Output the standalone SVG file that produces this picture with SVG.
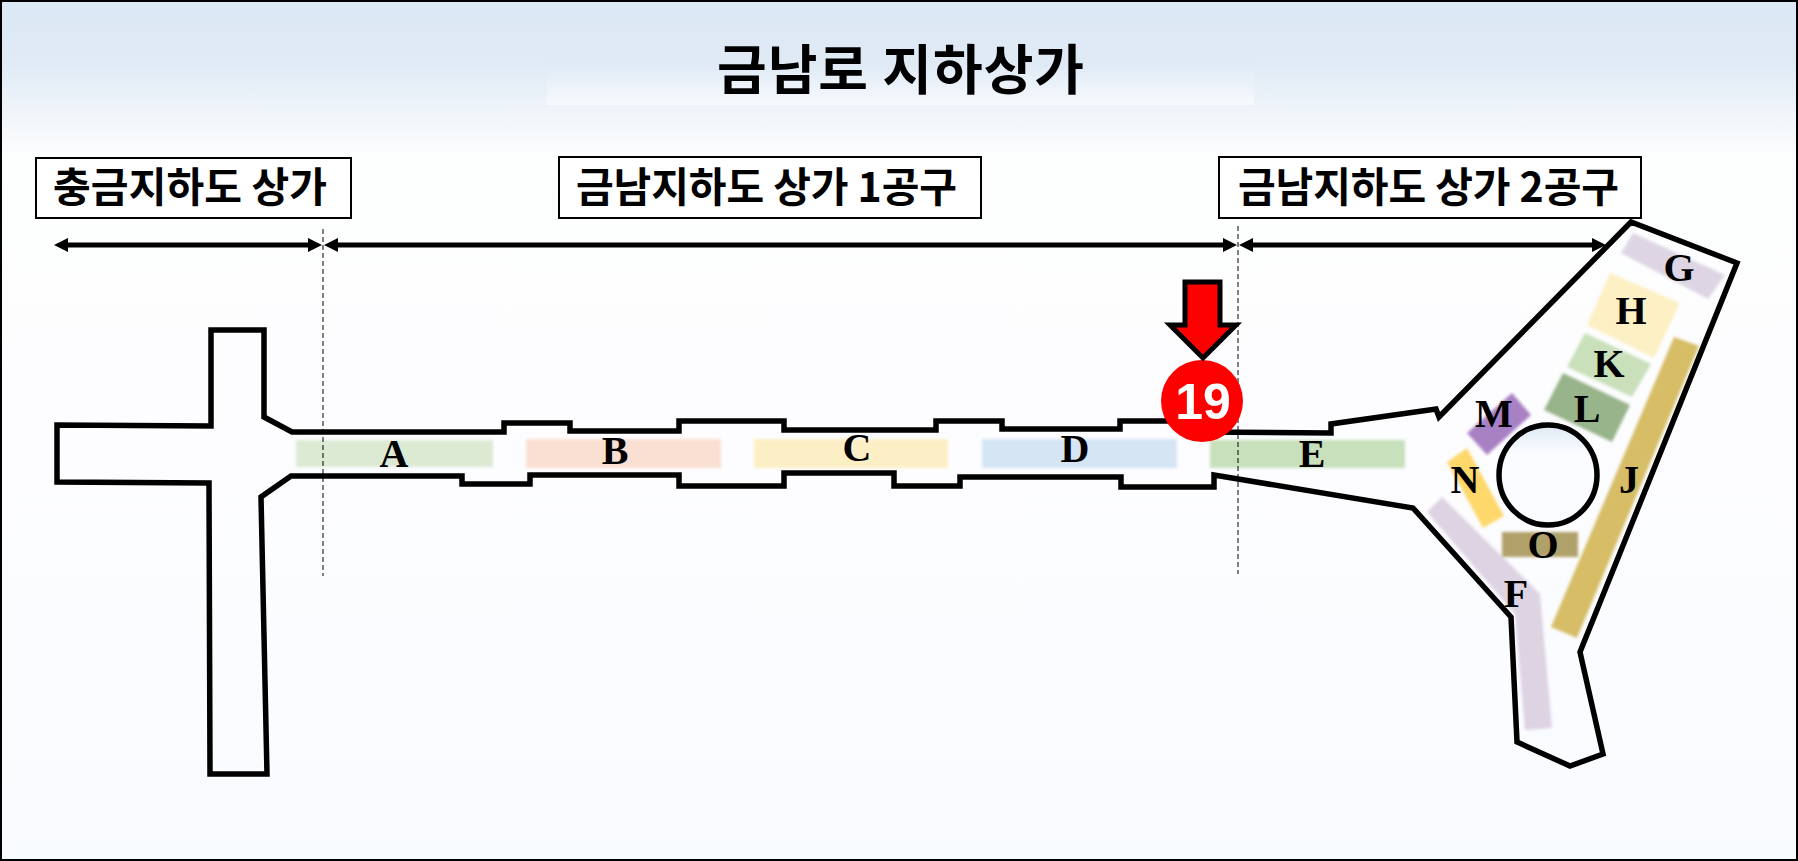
<svg xmlns="http://www.w3.org/2000/svg" width="1798" height="861" viewBox="0 0 1798 861">
<style>
.lbl{font-family:"Noto Sans CJK KR","Noto Sans",sans-serif;font-weight:700;fill:#000}
.hd{font-size:41px}
.box{fill:#fff;stroke:#000;stroke-width:2}
.zone{filter:url(#soft)}
.ltr{font-family:"Liberation Serif",serif;font-weight:700;font-size:40px;fill:#000;text-anchor:middle}
.dash{stroke:#000;stroke-width:1;stroke-dasharray:5 3;fill:none}
.span{stroke:#000;stroke-width:5;fill:none;marker-start:url(#ah);marker-end:url(#ah)}
.wall{fill:none;stroke:#000;stroke-width:5.5;stroke-linejoin:miter}
</style>
<defs>
<linearGradient id="bg" x1="0" y1="0" x2="0" y2="1">
<stop offset="0" stop-color="#dce8f5"/>
<stop offset="0.07" stop-color="#dfeaf5"/>
<stop offset="0.18" stop-color="#fdfefe"/>
<stop offset="0.5" stop-color="#fdfdff"/>
<stop offset="1" stop-color="#f8fbff"/>
</linearGradient>
<linearGradient id="band" x1="0" y1="0" x2="0" y2="1">
<stop offset="0" stop-color="#dee9f5"/>
<stop offset="1" stop-color="#f7fafd"/>
</linearGradient>
<linearGradient id="hole" x1="0" y1="0" x2="0" y2="1">
<stop offset="0" stop-color="#dfeaf5"/>
<stop offset="0.3" stop-color="#fbfcff"/>
<stop offset="1" stop-color="#fafcff"/>
</linearGradient>
<filter id="soft" x="-10%" y="-10%" width="120%" height="120%"><feGaussianBlur stdDeviation="1.6"/></filter>
<marker id="ah" markerUnits="userSpaceOnUse" markerWidth="16" markerHeight="16" refX="1" refY="8" orient="auto-start-reverse"><path d="M0 1L14 8L0 15Z" fill="#000"/></marker>
</defs>
<g id="background">
<rect x="1" y="1" width="1796" height="859" fill="url(#bg)" stroke="#000" stroke-width="2"/>
<rect x="547" y="62" width="707" height="43" fill="url(#band)"/>
</g>
<g id="title"><text class="lbl" x="717" y="90" font-size="54" textLength="367" lengthAdjust="spacing">금남로 지하상가</text></g>
<g id="zones">
<rect class="zone" x="296" y="440" width="197" height="27" fill="#dcead4"/>
<rect class="zone" x="526" y="439" width="195" height="29" fill="#fae0d2"/>
<rect class="zone" x="754" y="439" width="194" height="29" fill="#fdefc5"/>
<rect class="zone" x="982" y="439" width="195" height="29" fill="#d5e5f4"/>
<rect class="zone" x="1210" y="440" width="195" height="28" fill="#c8e0bb"/>
<polygon class="zone" points="1442,497 1540,594 1552,728 1525,730 1515,614 1427,512" fill="#ddd3e3"/>
<polygon class="zone" points="1633,233 1725,275 1708,299 1621,253" fill="#ddd5e4"/>
<polygon class="zone" points="1610,273 1680,303 1654,358 1587,325" fill="#fdf0c4"/>
<polygon class="zone" points="1585,333 1651,364 1632,397 1567,367" fill="#c9e0bb"/>
<polygon class="zone" points="1563,373 1630,405 1612,442 1544,410" fill="#98b48a"/>
<polygon class="zone" points="1674,337 1699,346 1577,638 1551,627" fill="#d6bd66"/>
<polygon class="zone" points="1512,393 1531,415 1487,455 1467,433" fill="#a881c4"/>
<polygon class="zone" points="1467,448 1504,516 1483,528 1447,462" fill="#fed86a"/>
<rect class="zone" x="1502" y="532" width="76" height="25" fill="#b0a06a"/>
</g>
<g id="connectors">
<line class="dash" x1="323" y1="229" x2="323" y2="576"/>
<line class="dash" x1="1238" y1="226" x2="1238" y2="574"/>
<line class="span" x1="67" y1="245" x2="309" y2="245"/>
<line class="span" x1="337" y1="245" x2="1224" y2="245"/>
<line class="span" x1="1252" y1="245" x2="1593" y2="245"/>
</g>
<g id="concourse">
<path class="wall" d="M1200 432L1331 433V424L1436 409L1439 417L1631 222L1737 263L1580 652L1603 754L1570 766L1517 742L1511 617L1413 508L1214 475V487H1121V477H960V486H894V473H784V486H679V475H530V484H462V476H291L261 497L267 774H210L209 483L57 482V425L211 426V330H264V417L292 432H504V423H570V431H679V421H784V430H936V421H1002V429H1120V421H1200"/>
<ellipse class="wall" cx="1548" cy="475" rx="49" ry="50" style="fill:url(#hole)"/>
</g>
<g id="label-a"><text class="ltr" x="394" y="467">A</text></g>
<g id="label-b"><text class="ltr" x="615" y="464">B</text></g>
<g id="label-c"><text class="ltr" x="857" y="461">C</text></g>
<g id="label-d"><text class="ltr" x="1075" y="462">D</text></g>
<g id="label-e"><text class="ltr" x="1312" y="467">E</text></g>
<g id="label-f"><text class="ltr" x="1516" y="607">F</text></g>
<g id="label-g"><text class="ltr" x="1679" y="281">G</text></g>
<g id="label-h"><text class="ltr" x="1631" y="324">H</text></g>
<g id="label-j"><text class="ltr" x="1629" y="493">J</text></g>
<g id="label-k"><text class="ltr" x="1609" y="377">K</text></g>
<g id="label-l"><text class="ltr" x="1587" y="422">L</text></g>
<g id="label-m"><text class="ltr" x="1494" y="427">M</text></g>
<g id="label-n"><text class="ltr" x="1465" y="493">N</text></g>
<g id="label-o"><text class="ltr" x="1543" y="558">O</text></g>
<g id="section-1"><rect class="box" x="36" y="158" width="315" height="60"/><text class="lbl hd" x="53" y="202" textLength="274" lengthAdjust="spacing">충금지하도 상가</text></g>
<g id="section-2"><rect class="box" x="559" y="157" width="422" height="61"/><text class="lbl hd" x="576" y="202" textLength="381" lengthAdjust="spacing">금남지하도 상가 1공구</text></g>
<g id="section-3"><rect class="box" x="1219" y="157" width="422" height="61"/><text class="lbl hd" x="1238" y="202" textLength="381" lengthAdjust="spacing">금남지하도 상가 2공구</text></g>
<g id="marker-19">
<ellipse cx="1202" cy="401" rx="41" ry="41" fill="#f00"/>
<polygon points="1185,282 1220,282 1220,325 1236,325 1203,358 1170,325 1185,325" fill="#f00" stroke="#000" stroke-width="5"/>
<text x="1203" y="419" font-family="'Liberation Sans',sans-serif" font-weight="700" font-size="50" fill="#fff" text-anchor="middle">19</text>
</g>
</svg>
